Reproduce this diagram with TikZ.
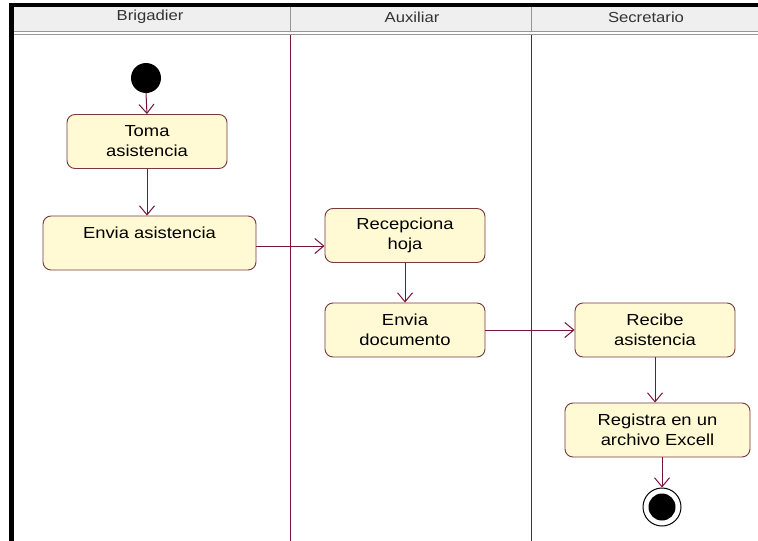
\documentclass[tikz,border=0pt]{standalone}
\usepackage{fontspec}
\setmainfont{Liberation Sans}[FakeStretch=1.15]
\usepackage{tikz}
\usetikzlibrary{positioning,calc,arrows.meta}

\definecolor{actfill}{RGB}{255,250,212}
\definecolor{actline}{RGB}{120,55,65}
\definecolor{lanecol}{RGB}{120,20,60}
\definecolor{hdrfill}{RGB}{239,239,239}
\definecolor{hdrline}{RGB}{150,150,150}

\begin{document}
\begin{tikzpicture}[
  x=1pt, y=-1pt,
  >={Straight Barb[length=9pt,width=15pt]},
  every node/.style={align=center},
  act/.style={draw=actline, fill=actfill, rounded corners=8pt, line width=0.9pt, minimum width=160pt, minimum height=54pt, inner sep=2pt, font=\fontsize{16}{20}\selectfont},
  hdr/.style={font=\fontsize{14.5}{16}\selectfont, text=black!80},
  flow/.style={->, draw=lanecol, line width=1pt},
  lane/.style={draw=lanecol, line width=1pt},
  start/.style={circle, fill=black, minimum size=30pt, inner sep=0pt},
  ring/.style={circle, draw=black, line width=1pt, fill=white, minimum size=38pt, inner sep=0pt}
]
\useasboundingbox (0,0) rectangle (758,541);

% --- Frame and swimlane header ---
\fill[hdrfill] (11,7) rectangle (758,31);
\draw[hdrline, line width=0.8pt] (11,31.5) -- (758,31.5);
\draw[hdrline, line width=0.8pt] (11,34.5) -- (758,34.5);
\draw[hdrline, line width=0.8pt] (290,7) -- (290,31) (531,7) -- (531,31);
\draw[black, line width=4pt] (9,5) -- (758,5);
\draw[black, line width=5pt] (11.5,3) -- (11.5,541);

\node[hdr] (hbrig) at (150,17) {Brigadier};
\node[hdr] (haux)  at (412,17) {Auxiliar};
\node[hdr] (hsec)  at (646,17) {Secretario};

% --- Lane separators ---
\draw[lane] (290,35) -- (290,541);
\draw[lane] (531,35) -- (531,541);

% --- Brigadier ---
\node[start] (ini) at (146,78) {};
\node[act] (toma)  at (147,141.5) {Toma\\asistencia};
\node[act, minimum width=213pt] (envasis) at (149.5,243) {Envia asistencia\\\mbox{}};

% --- Auxiliar ---
\node[act] (recep)  at (405,235.5) {Recepciona\\hoja};
\node[act] (envdoc) at (405,330) {Envia\\documento};

% --- Secretario ---
\node[act] (recibe) at (655,330) {Recibe\\asistencia};
\node[act, minimum width=185pt] (regis) at (657.5,430) {Registra en un\\archivo Excell};
\node[ring] (fin) at (662,507) {};
\node[start, minimum size=27pt] (finin) at (fin) {};

% --- Flows ---
\draw[flow] (ini.south) -- (toma.north);
\draw[flow] (toma.south) -- (toma.south |- envasis.north);
\draw[flow] ([yshift=-3pt]envasis.east) -- ([yshift=-3pt]envasis.east -| recep.west);
\draw[flow] (recep.south) -- (envdoc.north);
\draw[flow] (envdoc.east) -- (recibe.west);
\draw[flow] (recibe.south) -- (recibe.south |- regis.north);
\draw[flow] (regis.south -| fin.north) -- (fin.north);

\end{tikzpicture}
\end{document}
